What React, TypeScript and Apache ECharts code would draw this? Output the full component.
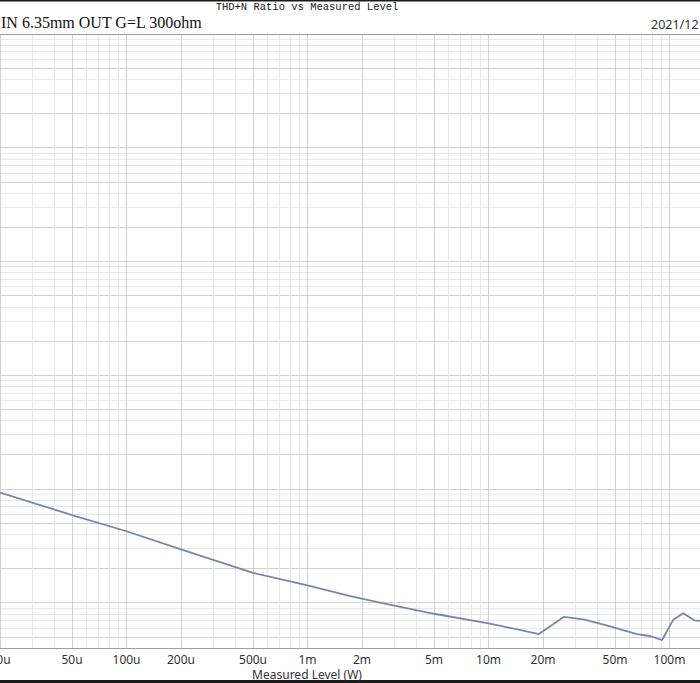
import React, { useEffect, useRef } from "react";
import * as echarts from "echarts";

// Measured level (W) and THD+N ratio (%)
const levelW = [
  2e-5, 5e-5, 1e-4, 2e-4, 5e-4, 1e-3, 1.7e-3, 2.4e-3, 5e-3, 1e-2, 1.9e-2,
  2.6e-2, 3.4e-2, 4.7e-2, 6.6e-2, 7.8e-2, 9.1e-2, 1.05e-1, 1.19e-1, 1.37e-1,
  1.5e-1,
];
const thdnPct = [
  0.0093, 0.0059, 0.00425, 0.00295, 0.00183, 0.00142, 0.00115, 0.00102,
  0.0008, 0.00066, 0.00053, 0.00075, 0.00071, 0.00062, 0.00053, 0.00051,
  0.00047, 0.00071, 0.00081, 0.0007, 0.00069,
];

const xMajorTicks = [
  2e-5, 5e-5, 1e-4, 2e-4, 5e-4, 1e-3, 2e-3, 5e-3, 1e-2, 2e-2, 5e-2, 1e-1, 2e-1,
];
const xTickLabels = [
  "20u", "50u", "100u", "200u", "500u", "1m", "2m", "5m", "10m", "20m", "50m", "100m", "200m",
];
const xMinorTicks = [
  3e-5, 4e-5, 6e-5, 7e-5, 8e-5, 9e-5,
  3e-4, 4e-4, 6e-4, 7e-4, 8e-4, 9e-4,
  3e-3, 4e-3, 6e-3, 7e-3, 8e-3, 9e-3,
  3e-2, 4e-2, 6e-2, 7e-2, 8e-2, 9e-2,
];
const yMajorTicks = [
  0.0005, 0.001, 0.002, 0.005, 0.01, 0.02, 0.05, 0.1, 0.2, 0.5, 1, 2, 5, 10, 20, 50, 100,
];
const yMinorTicks = [
  0.0006, 0.0007, 0.0008, 0.0009,
  0.003, 0.004, 0.006, 0.007, 0.008, 0.009,
  0.03, 0.04, 0.06, 0.07, 0.08, 0.09,
  0.3, 0.4, 0.6, 0.7, 0.8, 0.9,
  3, 4, 6, 7, 8, 9,
  30, 40, 60, 70, 80, 90,
];

const X_MIN = 2e-5;
const X_MAX = 0.2;
const Y_MIN = 0.0004;
const Y_MAX = 100;

export default function App() {
  const ref = useRef<HTMLDivElement>(null);

  useEffect(() => {
    if (!ref.current) return;
    const chart = echarts.init(ref.current, null, { renderer: "svg" });
    const labelFor = (v: number) => {
      let best = 0;
      let bd = Infinity;
      xMajorTicks.forEach((t, i) => {
        const d = Math.abs(Math.log10(t) - Math.log10(v));
        if (d < bd) {
          bd = d;
          best = i;
        }
      });
      return xTickLabels[best];
    };
    chart.setOption({
      animation: false,
      backgroundColor: "#ffffff",
      grid: {
        left: 0,
        top: 34,
        width: 724,
        height: 614,
        containLabel: false,
        outerBoundsMode: "none",
      },
      xAxis: [
        {
          type: "log",
          logBase: 10,
          min: X_MIN,
          max: X_MAX,
          position: "top",
          axisLine: { show: true, onZero: false, lineStyle: { color: "#9c9c9c", width: 1 } },
          axisTick: { show: false, customValues: xMinorTicks },
          axisLabel: { show: false },
          splitLine: { show: true, lineStyle: { color: "#e8e8e8", width: 1 } },
        },
        {
          type: "log",
          logBase: 10,
          min: X_MIN,
          max: X_MAX,
          position: "bottom",
          axisLine: { show: true, onZero: false, lineStyle: { color: "#a0a0a0", width: 1 } },
          axisTick: { show: false, customValues: xMajorTicks },
          axisLabel: {
            show: true,
            customValues: xMajorTicks,
            formatter: (v: number) => labelFor(v),
            color: "#333333",
            fontSize: 12,
            fontFamily: "Noto Sans",
            margin: 5,
          },
          splitLine: { show: true, lineStyle: { color: "#d0d0d0", width: 1 } },
        },
      ],
      yAxis: [
        {
          type: "log",
          logBase: 10,
          min: Y_MIN,
          max: Y_MAX,
          position: "right",
          axisLine: { show: false },
          axisTick: { show: false, customValues: yMinorTicks },
          axisLabel: { show: false },
          splitLine: { show: true, lineStyle: { color: "#e8e8e8", width: 1 } },
        },
        {
          type: "log",
          logBase: 10,
          min: Y_MIN,
          max: Y_MAX,
          position: "left",
          axisLine: { show: false },
          axisTick: { show: false, customValues: yMajorTicks },
          axisLabel: { show: false },
          splitLine: { show: true, lineStyle: { color: "#d0d0d0", width: 1 } },
        },
      ],
      graphic: [
        { type: "rect", shape: { x: 0, y: 0, width: 760, height: 1.5 }, style: { fill: "#1a1a1a" } },
        { type: "rect", shape: { x: 0, y: 680, width: 760, height: 3 }, style: { fill: "#1a1a1a" } },
        {
          type: "text",
          x: 307,
          y: 7,
          style: {
            text: "THD+N Ratio vs Measured Level",
            fontSize: 10.5,
            fontFamily: "Liberation Mono",
            fill: "#222222",
            textAlign: "center",
            textVerticalAlign: "middle",
          },
        },
        {
          type: "text",
          x: 1,
          y: 22,
          style: {
            text: "IN 6.35mm OUT G=L 300ohm",
            fontSize: 16,
            fontFamily: "Liberation Serif",
            fill: "#111111",
            textAlign: "left",
            textVerticalAlign: "middle",
          },
        },
        {
          type: "text",
          x: 651,
          y: 24,
          style: {
            text: "2021/12",
            fontSize: 12.5,
            fontFamily: "Noto Sans",
            fill: "#333333",
            textAlign: "left",
            textVerticalAlign: "middle",
          },
        },
        {
          type: "text",
          x: 307,
          y: 674,
          style: {
            text: "Measured Level (W)",
            fontSize: 12,
            fontFamily: "Noto Sans",
            fill: "#333333",
            textAlign: "center",
            textVerticalAlign: "middle",
          },
        },
      ],
      series: [
        {
          type: "line",
          xAxisIndex: 1,
          yAxisIndex: 1,
          showSymbol: false,
          symbol: "none",
          lineStyle: { color: "#7b86a4", width: 1.8 },
          data: levelW.map((w, i) => [w, thdnPct[i]]),
        },
      ],
    });
    return () => chart.dispose();
  }, []);

  return (
    <div
      style={{
        position: "fixed",
        left: 0,
        top: 0,
        width: 700,
        height: 683,
        overflow: "hidden",
        background: "#ffffff",
      }}
    >
      <div ref={ref} style={{ width: 760, height: 683 }} />
    </div>
  );
}
